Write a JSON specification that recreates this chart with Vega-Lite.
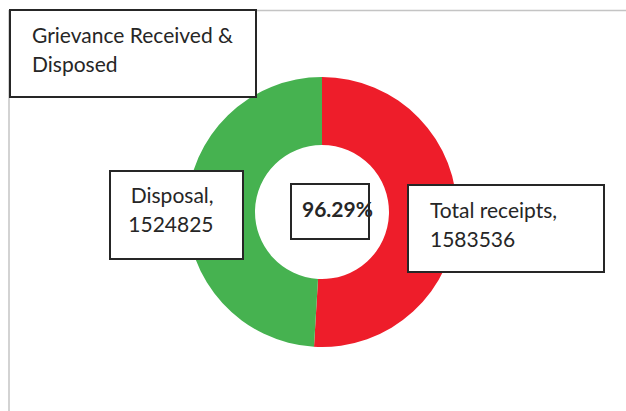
{
  "$schema": "https://vega.github.io/schema/vega-lite/v6.json",
  "autosize": {"type": "none"},
  "width": 608,
  "height": 398,
  "padding": {"left": 18, "top": 13, "right": 0, "bottom": 0},
  "background": "white",
  "config": {"view": {"stroke": null}, "text": {"font": "Lato", "color": "#262626"}},
  "data": {"values": [
    {"category": "Total receipts", "value": 1583536},
    {"category": "Disposal", "value": 1524825}
  ]},
  "layer": [
    {"data": {"values": [{}]}, "mark": {"type": "rule", "color": "#c4c4c4", "strokeWidth": 1.5},
     "encoding": {"x": {"value": -9}, "y": {"value": -3}, "y2": {"value": 398}}},
    {"data": {"values": [{}]}, "mark": {"type": "rule", "color": "#c4c4c4", "strokeWidth": 1.5},
     "encoding": {"y": {"value": -2.5}, "x": {"value": -9}, "x2": {"value": 608}}},
    {"mark": {"type": "arc", "outerRadius": 135, "innerRadius": 67},
     "encoding": {
       "theta": {"field": "value", "type": "quantitative", "stack": true},
       "order": {"field": "value", "sort": "descending"},
       "color": {"field": "category", "type": "nominal", "legend": null,
                 "scale": {"domain": ["Total receipts", "Disposal"], "range": ["#EE1D2A", "#46B250"]}}
     }},
    {"data": {"values": [{}]}, "mark": {"type": "rect", "x": -8, "x2": 238, "y": -3, "y2": 84, "fill": "white", "stroke": "#262626", "strokeWidth": 2}, "encoding": {}},
    {"data": {"values": [{}]}, "mark": {"type": "rect", "x": 92, "x2": 225, "y": 158, "y2": 246, "fill": "white", "stroke": "#262626", "strokeWidth": 2}, "encoding": {}},
    {"data": {"values": [{}]}, "mark": {"type": "rect", "x": 273, "x2": 351, "y": 171, "y2": 226, "fill": "white", "stroke": "#262626", "strokeWidth": 2}, "encoding": {}},
    {"data": {"values": [{}]}, "mark": {"type": "rect", "x": 390, "x2": 586, "y": 172, "y2": 259, "fill": "white", "stroke": "#262626", "strokeWidth": 2}, "encoding": {}},
    {"data": {"values": [{}]}, "mark": {"type": "text", "x": 14, "y": 30, "align": "left", "baseline": "alphabetic", "fontSize": 21, "lineHeight": 29,
      "text": ["Grievance Received &", "Disposed"]}, "encoding": {}},
    {"data": {"values": [{}]}, "mark": {"type": "text", "x": 284, "y": 204, "align": "left", "baseline": "alphabetic", "fontSize": 21, "fontWeight": "bold",
      "text": "96.29%"}, "encoding": {}},
    {"mark": {"type": "text", "radius": 108, "align": "left", "baseline": "alphabetic", "dy": 2.8, "fontSize": 21, "lineHeight": 29,
      "text": {"expr": "datum.category == 'Total receipts' ? [datum.category + ',', '' + datum.value] : ''"}},
     "encoding": {
       "theta": {"field": "value", "type": "quantitative", "stack": true},
       "order": {"field": "value", "sort": "descending"}
     }},
    {"mark": {"type": "text", "radius": 108.5, "align": "right", "baseline": "alphabetic", "dy": -5.8, "fontSize": 21, "lineHeight": 29,
      "text": {"expr": "datum.category == 'Disposal' ? [datum.category + ',', '' + datum.value] : ''"}},
     "encoding": {
       "theta": {"field": "value", "type": "quantitative", "stack": true},
       "order": {"field": "value", "sort": "descending"}
     }}
  ]
}
